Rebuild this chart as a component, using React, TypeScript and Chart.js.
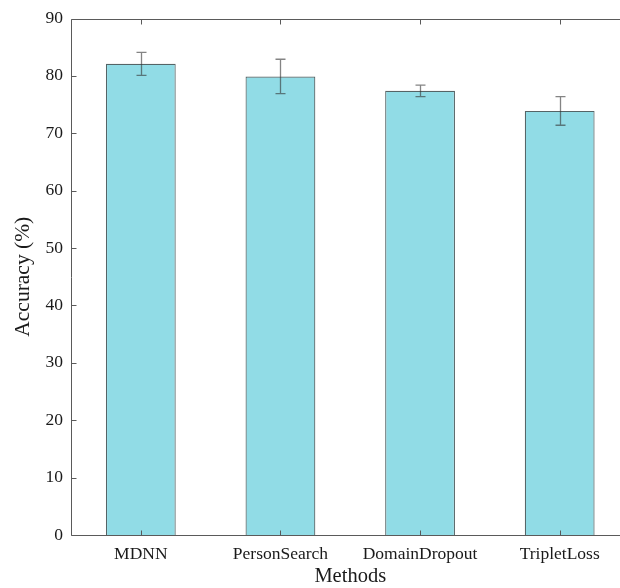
import React, { useEffect, useRef } from "react";
import { Chart, registerables } from "chart.js";

Chart.register(...registerables);

const categories = ["MDNN", "PersonSearch", "DomainDropout", "TripletLoss"];
const accuracy = [82.1, 79.9, 77.4, 73.9];
const errors = [2.0, 3.0, 1.0, 2.5];
const yTicks = [0, 10, 20, 30, 40, 50, 60, 70, 80, 90];

const FONT = "'Liberation Serif', 'Times New Roman', serif";
const AXIS = "#5a5a5a";

const framePlugin = {
  id: "frame",
  afterDatasetsDraw(chart: any) {
    const ctx = chart.ctx;
    const { left, right, top, bottom } = chart.chartArea;
    const xs = chart.scales.x;
    const ys = chart.scales.y;
    const meta = chart.getDatasetMeta(0);
    // error bars
    ctx.save();
    ctx.strokeStyle = "rgba(50,50,50,0.6)";
    ctx.lineWidth = 1.3;
    meta.data.forEach((bar: any, i: number) => {
      const x = Math.round(bar.x) + 0.5;
      const yHi = ys.getPixelForValue(accuracy[i] + errors[i]);
      const yLo = ys.getPixelForValue(accuracy[i] - errors[i]);
      ctx.beginPath();
      ctx.moveTo(x, yHi);
      ctx.lineTo(x, yLo);
      ctx.moveTo(x - 5, yHi);
      ctx.lineTo(x + 5, yHi);
      ctx.moveTo(x - 5, yLo);
      ctx.lineTo(x + 5, yLo);
      ctx.stroke();
    });
    ctx.restore();
    // box and ticks
    ctx.save();
    ctx.strokeStyle = AXIS;
    ctx.lineWidth = 1;
    const L = Math.round(left) + 0.5;
    const R = Math.round(right) + 0.5;
    const T = Math.round(top) + 0.5;
    const B = Math.round(bottom) + 0.5;
    ctx.beginPath();
    ctx.rect(L, T, R - L, B - T);
    ctx.stroke();
    ctx.beginPath();
    yTicks.forEach((v) => {
      const y = Math.round(ys.getPixelForValue(v)) + 0.5;
      ctx.moveTo(L, y);
      ctx.lineTo(L + 5, y);
      ctx.moveTo(R, y);
      ctx.lineTo(R - 5, y);
    });
    categories.forEach((_, i) => {
      const x = Math.round(xs.getPixelForValue(i)) + 0.5;
      ctx.moveTo(x, T);
      ctx.lineTo(x, T + 5);
      ctx.moveTo(x, B);
      ctx.lineTo(x, B - 5);
    });
    ctx.stroke();
    ctx.restore();
  },
};

export default function App() {
  const ref = useRef<HTMLCanvasElement>(null);
  useEffect(() => {
    if (!ref.current) return;
    const chart = new Chart(ref.current, {
      type: "bar",
      data: {
        labels: categories,
        datasets: [
          {
            data: accuracy,
            backgroundColor: "rgb(145,220,230)",
            borderColor: "rgb(85,100,102)",
            borderWidth: 1.2,
            barPercentage: 0.5,
            categoryPercentage: 1,
          },
        ],
      },
      options: {
        responsive: false,
        animation: false,
        layout: { padding: { top: 18, right: 10.5, left: 0, bottom: 0 } },
        plugins: { legend: { display: false }, tooltip: { enabled: false } },
        scales: {
          x: {
            grid: { display: false, drawTicks: false },
            border: { display: false },
            ticks: {
              padding: 9,
              color: "#1a1a1a",
              font: { family: FONT, size: 17.5 },
            },
            title: {
              display: true,
              text: "Methods",
              color: "#1a1a1a",
              font: { family: FONT, size: 20.5, lineHeight: 1 },
              padding: { top: 0, bottom: 1 },
            },
            afterFit: (s: any) => {
              s.height = 53;
            },
          },
          y: {
            min: 0,
            max: 90,
            grid: { display: false, drawTicks: false },
            border: { display: false },
            afterBuildTicks: (s: any) => {
              s.ticks = yTicks.map((v) => ({ value: v }));
            },
            ticks: {
              padding: 8,
              color: "#1a1a1a",
              font: { family: FONT, size: 17.5 },
            },
            title: {
              display: true,
              text: "Accuracy (%)",
              color: "#1a1a1a",
              font: { family: FONT, size: 21.5, lineHeight: 1.2 },
              padding: { top: 10, bottom: 0 },
            },
            afterFit: (s: any) => {
              s.width = 71;
            },
          },
        },
      },
      plugins: [framePlugin],
    });
    return () => chart.destroy();
  }, []);
  return (
    <div style={{ position: "fixed", left: 0, top: 0, width: 620, height: 588, overflow: "hidden", background: "#fff" }}>
      <canvas ref={ref} width={640} height={588} style={{ display: "block" }} />
    </div>
  );
}
